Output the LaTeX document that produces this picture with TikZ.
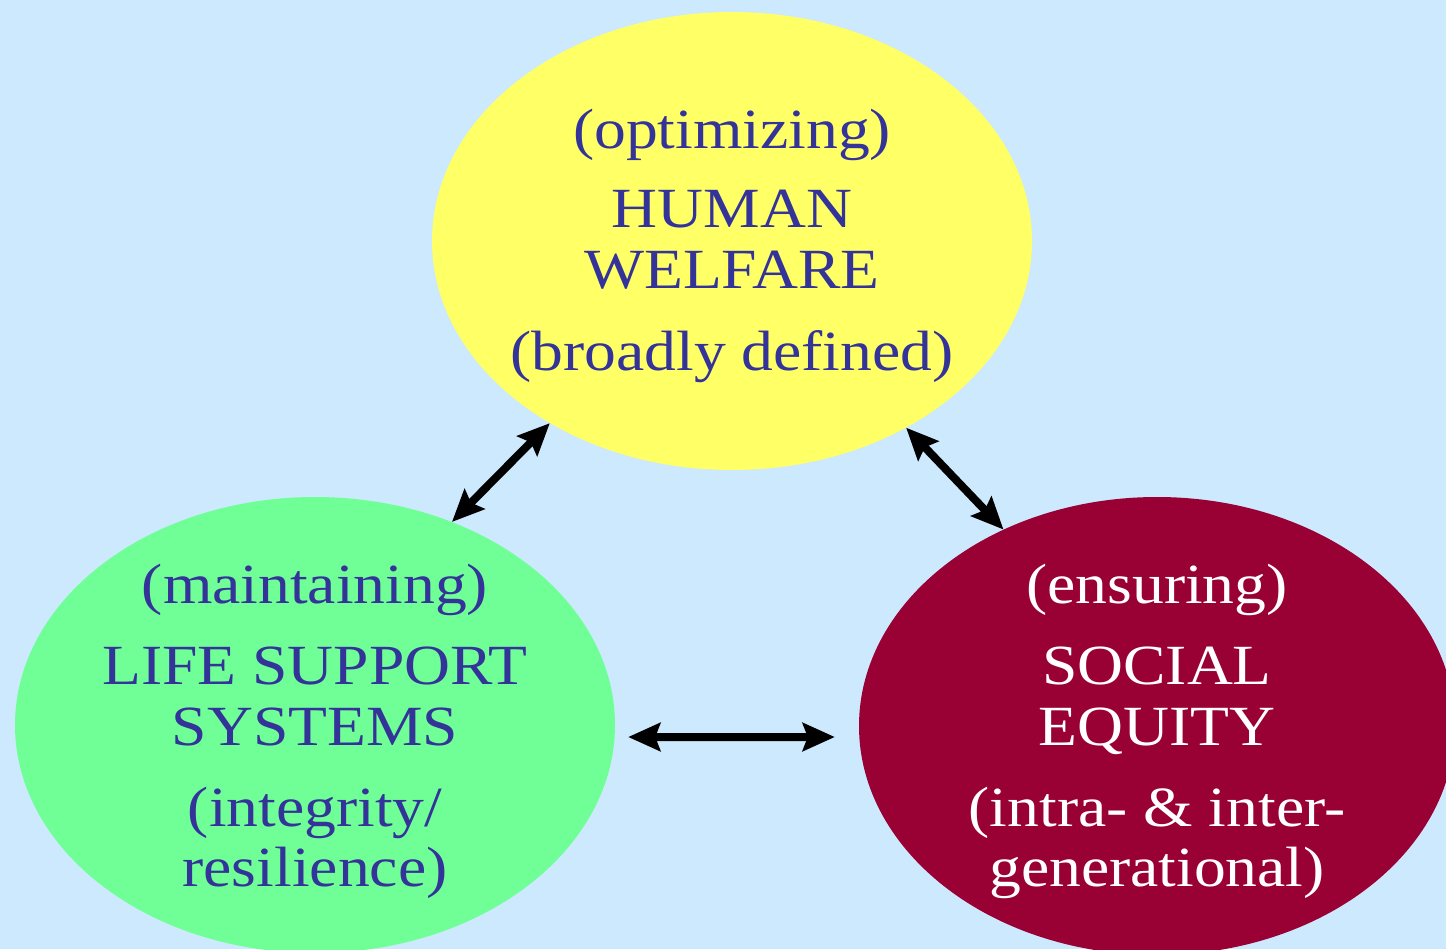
\documentclass[tikz,border=0pt]{standalone}
\usepackage{fontspec}
\setmainfont{Liberation Serif}[FakeStretch=1.12]
\usetikzlibrary{shapes.geometric,arrows.meta}
\definecolor{skyback}{RGB}{204,233,253}
\definecolor{sunyellow}{RGB}{255,255,102}
\definecolor{leafgreen}{RGB}{112,255,150}
\definecolor{wine}{RGB}{153,0,51}
\definecolor{inkblue}{RGB}{51,51,153}
\begin{document}
\begin{tikzpicture}[x=1bp,y=-1bp,
  bubble/.style={ellipse, inner sep=0pt, draw=none},
  txt/.style={anchor=base, inner sep=0pt, font=\fontsize{57}{61}\selectfont, text=inkblue},
  lighttxt/.style={txt, text=white},
  arr/.style={line width=8bp,
    {Stealth[length=32bp,width=28bp,inset=5bp]}-{Stealth[length=32bp,width=28bp,inset=5bp]}}]
  % canvas
  \useasboundingbox (0,0) rectangle (1446,949);
  \clip (0,0) rectangle (1446,949);
  \fill[skyback] (0,0) rectangle (1446,949);

  % the three pillars
  \node[bubble, fill=sunyellow, minimum width=600bp, minimum height=458bp] (hw) at (732,241) {};
  \node[bubble, fill=leafgreen, minimum width=600bp, minimum height=456bp] (ls) at (315,725) {};
  \node[bubble, fill=wine, minimum width=596bp, minimum height=458bp] (se) at (1157,726) {};

  % human welfare
  \node[txt] (hw1) at (732,148) {(optimizing)};
  \node[txt] (hw2) at (732,227) {HUMAN};
  \node[txt] (hw3) at (732,288) {WELFARE};
  \node[txt] (hw4) at (732,370) {(broadly defined)};

  % life support systems
  \node[txt] (ls1) at (315,603) {(maintaining)};
  \node[txt] (ls2) at (315,684) {LIFE SUPPORT};
  \node[txt] (ls3) at (315,745) {SYSTEMS};
  \node[txt] (ls4) at (315,826) {(integrity/};
  \node[txt] (ls5) at (315,886) {resilience)};

  % social equity
  \node[lighttxt] (se1) at (1157,603) {(ensuring)};
  \node[lighttxt] (se2) at (1157,684) {SOCIAL};
  \node[lighttxt] (se3) at (1157,745) {EQUITY};
  \node[lighttxt] (se4) at (1157,826) {(intra- \& inter-};
  \node[lighttxt] (se5) at (1157,886) {generational)};

  % mutual links
  \draw[arr] (hw.225) -- (ls.56);
  \draw[arr] (hw.313) -- (se.128);
  \draw[arr, shorten <=13bp, shorten >=24bp] ([yshift=-12bp]ls.east) -- ([yshift=-11bp]se.west);
\end{tikzpicture}
\end{document}
